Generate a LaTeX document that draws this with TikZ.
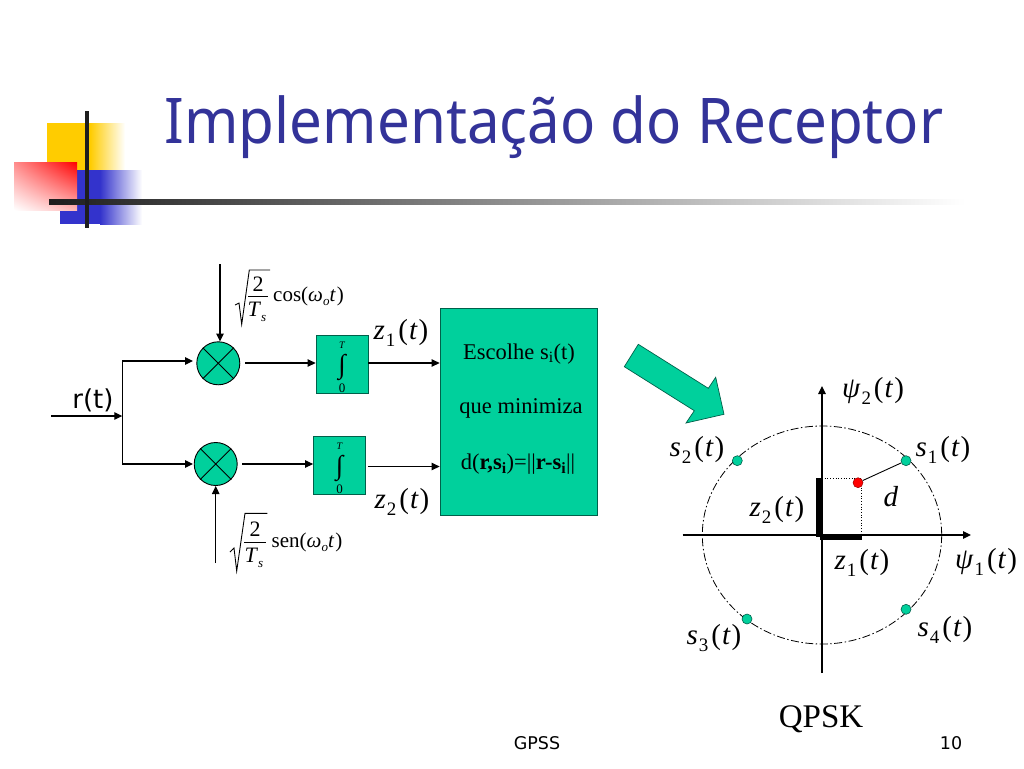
\documentclass[tikz,border=0pt]{standalone}
\usepackage{fontspec}
\setmainfont{Liberation Serif}
\newfontfamily\uifont{DejaVu Sans}
\newfontfamily\titlefont{Noto Sans}
\usetikzlibrary{arrows.meta,shapes.misc,shadings}
\definecolor{teal1}{HTML}{00D09C}
\definecolor{tealedge}{HTML}{00604A}
\definecolor{titleblue}{HTML}{333399}
\definecolor{logoyellow}{HTML}{FFCC00}
\definecolor{logoblue}{HTML}{3333CC}
\definecolor{logodark}{HTML}{1E1E1E}
\newcommand{\fs}[1]{\fontsize{#1}{#1}\selectfont}
\newcommand{\sigsub}[2]{\textit{#1}\kern1pt\raisebox{-0.25em}{\fs{19}#2}\kern3pt(\kern1pt\textit{t}\kern1pt)}
\tikzset{
  x=1pt,y=-1pt,
  conn/.style={line width=1.1pt,-{Triangle[length=8pt,width=7.5pt]}},
  wire/.style={line width=1.1pt},
  mult/.style={circle,draw=black,fill=teal1,line width=0.9pt,minimum size=43pt,inner sep=0pt},
  intbox/.style={rectangle,draw=tealedge,fill=teal1,line width=0.8pt,minimum width=52pt,minimum height=58pt,inner sep=0pt},
  dot/.style={circle,draw=tealedge,fill=teal1,line width=0.6pt,minimum size=10pt,inner sep=0pt},
  lab/.style={inner sep=0pt,font=\fs{29}},
  small/.style={inner sep=0pt,font=\fs{21}},
  boxtext/.style={inner sep=0pt,font=\fs{22.5}},
  frac/.style={inner sep=0pt,font=\fs{22}},
  foot/.style={inner sep=0pt,font=\uifont\fs{17.5}}
}
\begin{document}
\begin{tikzpicture}
\useasboundingbox (0,0) rectangle (1024,768);
\fill[white] (0,0) rectangle (1024,768);
% logo
\fill[logoyellow] (47,123) rectangle (90,170);
\shade[left color=logoyellow,right color=white,draw=none] (90,123) rectangle (125,170);
\fill[logoblue] (77,170) rectangle (100,224);
\fill[logoblue] (60,210) rectangle (77,224);
\shade[left color=logoblue,right color=white,draw=none] (100,170) rectangle (142,224);
\shade[shading=bilinear interpolation,upper right=red,upper left=red!45!white,lower right=red!28!white,lower left=white,draw=none] (14,162) rectangle (77,210);
\shade[left color=logodark,middle color=gray!75,right color=white,draw=none] (49,199) rectangle (965,204);
\fill[logodark] (85,111) rectangle (89,228);
% title
\node[inner sep=0pt,anchor=base,text=titleblue,xscale=0.925,font=\titlefont\fs{63}] (title) at (554,143) {Implementação do Receptor};
% blocks
\node[mult] (m1) at (218.3,363.3) {};
\node[mult] (m2) at (215.7,464) {};
\draw[line width=0.9pt] (m1.north west)--(m1.south east) (m1.north east)--(m1.south west);
\draw[line width=0.9pt] (m2.north west)--(m2.south east) (m2.north east)--(m2.south west);
\node[intbox] (i1) at (342,364.7) {};
\node[intbox] (i2) at (339.5,465.6) {};
\node[rectangle,draw=tealedge,fill=teal1,line width=0.8pt,minimum width=157pt,minimum height=207pt,inner sep=0pt] (dec) at (518.5,411.5) {};
% integrals
\foreach \n/\cx/\cy in {a/342/367,b/339.5/468}{
  \node[inner sep=0pt,font=\fs{27}] (int\n) at (\cx,\cy) {∫};
  \node[inner sep=0pt,font=\fs{10}\itshape] (up\n) at (\cx,\cy-22) {T};
  \node[inner sep=0pt,font=\fs{13}] (lo\n) at (\cx,\cy+21.5) {0};
}
% free ends
\coordinate (rin) at (51,416);
\coordinate (jn) at (122.3,416);
\coordinate (jt) at (122.3,361);
\coordinate (jb) at (122.3,464);
\coordinate (m1in) at (193,361);
\coordinate (m2in) at (193,464);
\coordinate (cosin) at (220,264);
\coordinate (cosend) at (220,341.5);
\coordinate (senin) at (215.7,563);
\coordinate (senend) at (215.7,486);
\coordinate (m1out) at (245,363);
\coordinate (m2out) at (242,464);
\coordinate (i2out) at (368.3,466.5);
% connectors
\draw[conn] (rin) -- (jn);
\draw[wire] (jt) -- (jb);
\draw[conn] (jt) -- (m1in);
\draw[conn] (jb) -- (m2in);
\draw[conn] (cosin) -- (cosend);
\draw[conn] (senin) -- (senend);
\draw[conn] (m1out) -- (m1out -| i1.west);
\draw[conn] (m2out) -- (m2out -| i2.west);
\draw[conn] (i1.east |- m1out) -- (m1out -| dec.west);
\draw[conn] (i2out) -- (i2out -| dec.west);
% labels left
\node[inner sep=0pt,font=\uifont\fs{26}] (rt) at (93,400) {r(t)};
\node[lab] (z1) at (401,333) {\sigsub{z}{1}};
\node[lab] (z2) at (402,502) {\sigsub{z}{2}};
% radicals
\draw[line width=0.9pt] (235,305)--(239,303)--(241.7,324.3)--(249.3,270)--(270,270);
\draw[line width=0.8pt] (248,296.7)--(268,296.7);
\node[frac] (two1) at (258,284) {2};
\node[frac] (ts1) at (257,312) {\textit{T}\raisebox{-0.25em}{\fs{13}\textit{s}}};
\node[small,anchor=west] (cos) at (273,296) {cos(\textit{ω}\raisebox{-0.2em}{\fs{13}\textit{o}}\textit{t}\kern1pt)};
\draw[line width=0.9pt] (230,552)--(234,548)--(236.7,571)--(245,513.3)--(267.3,513.3);
\draw[line width=0.8pt] (244,542.3)--(266,542.3);
\node[frac] (two2) at (255,529) {2};
\node[frac] (ts2) at (254,558) {\textit{T}\raisebox{-0.25em}{\fs{13}\textit{s}}};
\node[small,anchor=west] (sen) at (271.5,542) {sen(\textit{ω}\raisebox{-0.2em}{\fs{13}\textit{o}}\textit{t}\kern1pt)};
% box text
\node[boxtext] (t1) at (519,354) {Escolhe s\textsubscript{i}(t)};
\node[boxtext] (t2) at (521,408) {que minimiza};
\node[boxtext] (t3) at (518,464) {d(\textbf{r,s\textsubscript{i}})=||\textbf{r-s\textsubscript{i}}||};
% big arrow
\draw[tealedge,fill=teal1,line width=0.7pt] (638.3,344.3)--(708.3,388.3)--(715.7,377.3)--(724,414.3)--(686,423)--(694.3,410.7)--(624.3,366.7)--cycle;
% constellation
\draw[line width=0.8pt,dash pattern=on 8pt off 2.5pt on 1.5pt off 2.5pt] (822,535) ellipse [x radius=119.7,y radius=109];
\coordinate (xl) at (682.7,535);
\coordinate (xr) at (971,535);
\coordinate (yb) at (822,673);
\coordinate (yt) at (822,386);
\draw[conn] (xl) -- (xr);
\draw[conn] (yb) -- (yt);
\draw[black,line width=0.7pt,dotted] (822,478) -- (861,478) -- (861,535);
\fill[black] (816,478) rectangle (822,537);
\fill[black] (820,535) rectangle (861.7,540);
\node[dot] (s1) at (906,460.7) {};
\node[dot] (s2) at (737.3,460.7) {};
\node[dot] (s3) at (747,619) {};
\node[dot] (s4) at (906,609.3) {};
\node[circle,draw=red!60!black,fill=red,line width=0.5pt,minimum size=10pt,inner sep=0pt] (rp) at (858,482.7) {};
\draw[line width=0.9pt] (rp) -- (s1);
\node[lab] (ls1) at (943,450) {\sigsub{s}{1}};
\node[lab] (ls2) at (697,450) {\sigsub{s}{2}};
\node[lab] (ls3) at (714,638) {\sigsub{s}{3}};
\node[lab] (ls4) at (945,630) {\sigsub{s}{4}};
\node[lab] (lz1) at (862,563) {\sigsub{z}{1}};
\node[lab] (lz2) at (777,510) {\sigsub{z}{2}};
\node[lab] (ld) at (891,497) {\textit{d}};
\node[lab] (lp2) at (873,391) {\sigsub{ψ}{2}};
\node[lab] (lp1) at (986,562) {\sigsub{ψ}{1}};
\node[inner sep=0pt,font=\fs{33}] (qpsk) at (821,719) {QPSK};
\node[foot] (gpss) at (537,743) {GPSS};
\node[foot] (pg) at (951,743) {10};
\end{tikzpicture}
\end{document}
